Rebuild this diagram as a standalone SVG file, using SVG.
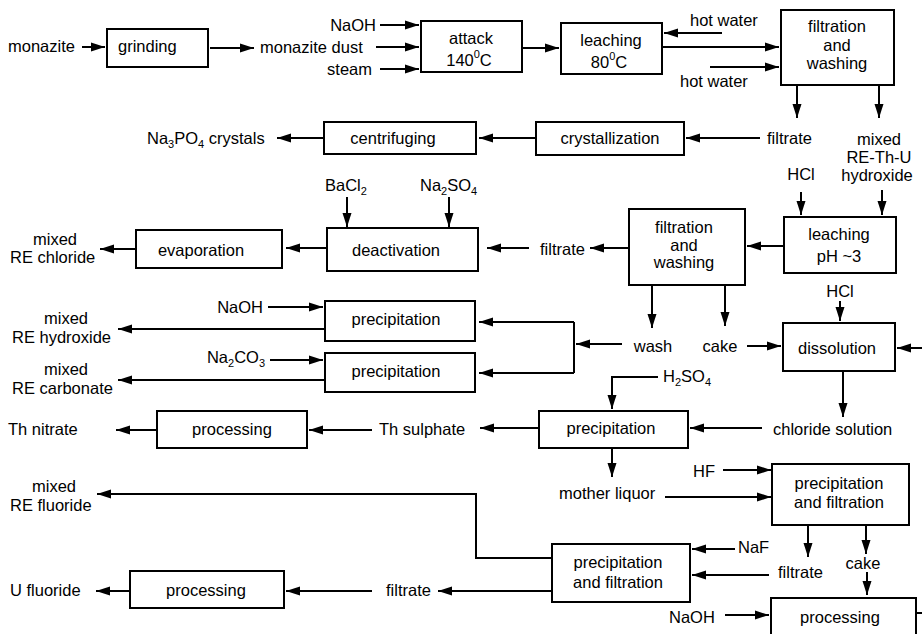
<svg xmlns="http://www.w3.org/2000/svg" width="922" height="634" viewBox="0 0 922 634">
  <style>
    text { font-family: "Liberation Sans", Arial, Helvetica, sans-serif; font-size: 16.5px; fill: #000; }
    .c { text-anchor: middle; }
    .e { text-anchor: end; }
    .box { fill: #fff; stroke: #000; stroke-width: 2; }
    .ln { fill: none; stroke: #000; stroke-width: 2; }
    .sub { font-size: 11px; }
  </style>
  <defs>
    <marker id="arrow" markerUnits="userSpaceOnUse" markerWidth="14" markerHeight="10" refX="14" refY="5" orient="auto">
      <path d="M0,0.5 L14,5 L0,9.5 z" fill="#000"/>
    </marker>
  </defs>
  <rect width="922" height="634" fill="#fff"/>

  <!-- process steps and streams -->
  <g id="monazite"><text x="8" y="52">monazite</text></g>
  <g id="grinding"><rect class="box" x="107" y="29" width="101" height="38"/><text x="118" y="52">grinding</text></g>
  <g id="monazite-dust"><text x="260" y="53">monazite dust</text></g>
  <g id="naoh-1"><text class="e" x="376" y="31">NaOH</text></g>
  <g id="steam"><text class="e" x="372" y="75">steam</text></g>
  <g id="attack"><rect class="box" x="421" y="21" width="101" height="51"/><text class="c" x="471" y="44">attack</text><text class="c" x="469" y="66">140<tspan class="sub" dy="-8">0</tspan><tspan dy="8">C</tspan></text></g>
  <g id="leaching-80"><rect class="box" x="561" y="23" width="101" height="51"/><text class="c" x="611" y="46">leaching</text><text class="c" x="609" y="68">80<tspan class="sub" dy="-8">0</tspan><tspan dy="8">C</tspan></text></g>
  <g id="hot-water-1"><text x="690" y="26">hot water</text></g>
  <g id="hot-water-2"><text x="680" y="87">hot water</text></g>
  <g id="filtration-1"><rect class="box" x="781" y="10" width="113" height="75"/><text class="c" x="837" y="32">filtration</text><text class="c" x="837" y="51">and</text><text class="c" x="837" y="69">washing</text></g>
  <g id="filtrate-1"><text x="767" y="144">filtrate</text></g>
  <g id="mixed-hydroxide"><text class="c" x="879" y="145">mixed</text><text class="c" x="879" y="163">RE-Th-U</text><text class="c" x="877" y="181">hydroxide</text></g>
  <g id="crystallization"><rect class="box" x="536" y="122" width="148" height="33"/><text class="c" x="610" y="144">crystallization</text></g>
  <g id="centrifuging"><rect class="box" x="324" y="122" width="152" height="32"/><text class="c" x="393" y="144">centrifuging</text></g>
  <g id="na3po4"><text x="147" y="144">Na<tspan class="sub" dy="4">3</tspan><tspan dy="-4">PO</tspan><tspan class="sub" dy="4">4</tspan><tspan dy="-4"> crystals</tspan></text></g>

  <g id="bacl2"><text x="325" y="191">BaCl<tspan class="sub" dy="4">2</tspan></text></g>
  <g id="na2so4"><text x="420" y="191">Na<tspan class="sub" dy="4">2</tspan><tspan dy="-4">SO</tspan><tspan class="sub" dy="4">4</tspan></text></g>
  <g id="deactivation"><rect class="box" x="327" y="228" width="151" height="43"/><text class="c" x="396" y="256">deactivation</text></g>
  <g id="filtrate-2"><text x="540" y="255">filtrate</text></g>
  <g id="filtration-2"><rect class="box" x="629" y="209" width="116" height="76"/><text class="c" x="684" y="233">filtration</text><text class="c" x="684" y="251">and</text><text class="c" x="684" y="268">washing</text></g>
  <g id="leaching-ph3"><rect class="box" x="784" y="217" width="112" height="56"/><text class="c" x="839" y="240">leaching</text><text class="c" x="839" y="262">pH ~3</text></g>
  <g id="hcl-1"><text class="c" x="801" y="180">HCl</text></g>
  <g id="hcl-2"><text class="c" x="840" y="297">HCl</text></g>
  <g id="evaporation"><rect class="box" x="136" y="230" width="146" height="38"/><text class="c" x="201" y="256">evaporation</text></g>
  <g id="re-chloride"><text class="c" x="55" y="245">mixed</text><text x="10" y="263">RE chloride</text></g>

  <g id="naoh-2"><text class="e" x="263" y="313">NaOH</text></g>
  <g id="na2co3"><text class="e" x="265" y="363">Na<tspan class="sub" dy="4">2</tspan><tspan dy="-4">CO</tspan><tspan class="sub" dy="4">3</tspan></text></g>
  <g id="precipitation-oh"><rect class="box" x="325" y="301" width="150" height="40"/><text class="c" x="396" y="325">precipitation</text></g>
  <g id="precipitation-co3"><rect class="box" x="325" y="353" width="150" height="39"/><text class="c" x="396" y="377">precipitation</text></g>
  <g id="re-hydroxide"><text class="c" x="66" y="324">mixed</text><text x="12" y="343">RE hydroxide</text></g>
  <g id="re-carbonate"><text class="c" x="66" y="375">mixed</text><text x="12" y="394">RE carbonate</text></g>
  <g id="wash"><text class="c" x="653" y="352">wash</text></g>
  <g id="cake-1"><text class="c" x="720" y="352">cake</text></g>
  <g id="dissolution"><rect class="box" x="783" y="323" width="112" height="48"/><text class="c" x="837" y="354">dissolution</text></g>
  <g id="chloride-solution"><text x="773" y="435">chloride solution</text></g>
  <g id="h2so4"><text x="663" y="382">H<tspan class="sub" dy="4">2</tspan><tspan dy="-4">SO</tspan><tspan class="sub" dy="4">4</tspan></text></g>
  <g id="precipitation-th"><rect class="box" x="539" y="411" width="149" height="37"/><text class="c" x="611" y="434">precipitation</text></g>
  <g id="th-sulphate"><text x="379" y="435">Th sulphate</text></g>
  <g id="processing-th"><rect class="box" x="157" y="411" width="150" height="37"/><text class="c" x="232" y="435">processing</text></g>
  <g id="th-nitrate"><text x="8" y="435">Th nitrate</text></g>

  <g id="mother-liquor"><text x="559" y="499">mother liquor</text></g>
  <g id="hf"><text x="693" y="477">HF</text></g>
  <g id="pf-1"><rect class="box" x="772" y="464" width="137" height="61"/><text class="c" x="839" y="489">precipitation</text><text class="c" x="839" y="508">and filtration</text></g>
  <g id="filtrate-3"><text x="778" y="578">filtrate</text></g>
  <g id="cake-2"><text class="c" x="863" y="569">cake</text></g>
  <g id="naf"><text x="738" y="553">NaF</text></g>
  <g id="pf-2"><rect class="box" x="552" y="544" width="138" height="58"/><text class="c" x="618" y="568">precipitation</text><text class="c" x="618" y="588">and filtration</text></g>
  <g id="re-fluoride"><text class="c" x="54" y="492">mixed</text><text x="10" y="511">RE fluoride</text></g>
  <g id="filtrate-4"><text x="386" y="596">filtrate</text></g>
  <g id="processing-u"><rect class="box" x="130" y="571" width="154" height="37"/><text class="c" x="206" y="596">processing</text></g>
  <g id="u-fluoride"><text x="10" y="596">U fluoride</text></g>
  <g id="naoh-3"><text x="669" y="623">NaOH</text></g>
  <g id="processing-th-recovery"><rect class="box" x="771" y="598" width="145" height="40"/><text class="c" x="840" y="623">processing</text></g>

  <!-- connectors -->
  <g id="connectors" class="ln" marker-end="url(#arrow)">
    <path d="M82,47 H105"/>
    <path d="M210,48 H254"/>
    <path d="M380,25 H419"/>
    <path d="M376,47 H419"/>
    <path d="M380,69 H419"/>
    <path d="M523,48 H559"/>
    <path d="M722,33 H664"/>
    <path d="M662,47 H779"/>
    <path d="M710,67 H779"/>
    <path d="M797,85 V118"/>
    <path d="M879,85 V118"/>
    <path d="M760,138 H686"/>
    <path d="M536,138 H479"/>
    <path d="M324,138 H277"/>

    <path d="M347,197 V227"/>
    <path d="M449,197 V227"/>
    <path d="M529,248 H487"/>
    <path d="M629,248 H590"/>
    <path d="M783,246 H747"/>
    <path d="M801,192 V215"/>
    <path d="M882,190 V215"/>
    <path d="M840,301 V321"/>
    <path d="M327,248 H286"/>
    <path d="M136,249 H100"/>

    <path d="M652,285 V328"/>
    <path d="M725,285 V326"/>
    <path d="M747,346 H781"/>
    <path d="M922,348 H897"/>
    <path d="M843,371 V417"/>
    <path d="M762,428 H690"/>
    <path d="M658,377 H612 V409"/>
    <path d="M622,344 H576"/>
    <path d="M574,322 H479"/>
    <path d="M574,373 H479"/>
    <path d="M268,307 H323"/>
    <path d="M270,360 H323"/>
    <path d="M325,329 H118"/>
    <path d="M325,380 H118"/>
    <path d="M539,428 H480"/>
    <path d="M372,430 H309"/>
    <path d="M157,430 H116"/>

    <path d="M612,448 V477"/>
    <path d="M665,497 H771"/>
    <path d="M723,470 H771"/>
    <path d="M808,525 V557"/>
    <path d="M866,525 V554"/>
    <path d="M867,572 V595"/>
    <path d="M735,549 H692"/>
    <path d="M769,575 H692"/>
    <path d="M552,558 H476 V494 H97"/>
    <path d="M552,591 H438"/>
    <path d="M372,591 H286"/>
    <path d="M130,591 H96"/>
    <path d="M725,615 H769"/>
  </g>
  <g id="connectors-plain" class="ln">
    <path d="M574,322 V373"/>
    <path d="M916,613 H922"/>
  </g>
</svg>
